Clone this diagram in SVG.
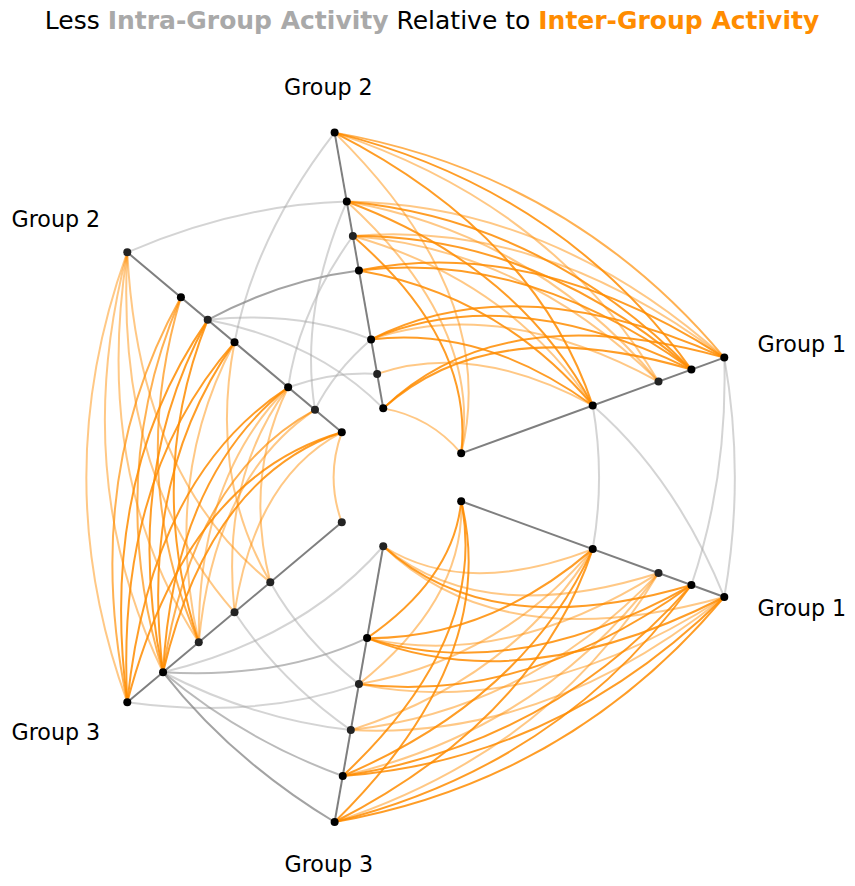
<svg xmlns="http://www.w3.org/2000/svg" width="855" height="886" viewBox="0 0 855 886">
<style>
.e{fill:none;stroke-width:2}
.oD{stroke:#ff8c00;stroke-opacity:0.85}
.oM{stroke:#ff8c00;stroke-opacity:0.68}
.oL{stroke:#ff8c00;stroke-opacity:0.48}
.gL{stroke:#a0a0a0;stroke-opacity:0.45}
.gM{stroke:#8c8c8c;stroke-opacity:0.6}
.gD{stroke:#808080;stroke-opacity:0.72}
.ax{stroke:#7f7f7f;stroke-width:2;fill:none}
.n{fill:#000}
.n2{fill:#232323}
.t{font-family:"DejaVu Sans","Liberation Sans",sans-serif}
.lab{font-family:"DejaVu Sans","Liberation Sans",sans-serif;font-size:22.2px;fill:#000}
</style>
<rect width="855" height="886" fill="#fff"/>
<text class="t" x="432" y="29" text-anchor="middle" font-size="25"><tspan fill="#000">Less </tspan><tspan fill="#a9a9a9" font-weight="bold">Intra-Group Activity</tspan><tspan fill="#000"> Relative to </tspan><tspan fill="#ff8c00" font-weight="bold">Inter-Group Activity</tspan></text>
<g id="connectors">
<path class="e gL" d="M592.73,405.48 Q605.4,477.3 592.73,549.12"/>
<path class="e gL" d="M724.29,357.59 Q745.4,477.3 724.29,597.01"/>
<path class="e gL" d="M724.29,357.59 Q727.9,477.3 691.4,585.04"/>
<path class="e gL" d="M592.73,405.48 Q675.4,477.3 724.29,597.01"/>
<path class="e gL" d="M127.29,252.32 Q237.9,204.5 346.78,201.55"/>
<path class="e gL" d="M334.62,132.62 Q255.4,234.81 234.53,342.31"/>
<path class="e gD" d="M207.72,319.82 Q281.65,280.28 358.93,270.49"/>
<path class="e gL" d="M207.72,319.82 Q299.15,310.59 371.09,339.43"/>
<path class="e gL" d="M207.72,319.82 Q316.65,340.9 383.24,408.36"/>
<path class="e gL" d="M346.78,201.55 Q299.15,310.59 314.97,409.81"/>
<path class="e gL" d="M352.86,236.02 Q299.15,310.59 288.15,387.31"/>
<path class="e gL" d="M288.15,387.31 Q334.15,371.21 377.17,373.89"/>
<path class="e gL" d="M314.97,409.81 Q334.15,371.21 371.09,339.43"/>
<path class="e gL" d="M127.29,702.28 Q255.4,719.79 358.93,684.11"/>
<path class="e gL" d="M163.06,672.26 Q302.08,638.94 383.24,546.24"/>
<path class="e gM" d="M163.06,672.26 Q278.75,679.34 367.04,638.12"/>
<path class="e gL" d="M163.06,672.26 Q255.4,719.79 350.82,730.1"/>
<path class="e gM" d="M163.06,672.26 Q243.75,739.97 342.73,775.99"/>
<path class="e gD" d="M163.06,672.26 Q232.08,760.19 334.62,822"/>
<path class="e gL" d="M234.53,612.29 Q278.73,679.39 350.82,730.1"/>
<path class="e gL" d="M270.3,582.27 Q302.08,638.94 358.93,684.11"/>
<path class="e oM" d="M334.62,132.62 Q570.4,174.19 724.29,357.59"/>
<path class="e oD" d="M334.62,132.62 Q561.65,189.35 691.4,369.56"/>
<path class="e oL" d="M334.62,132.62 Q552.9,204.5 658.51,381.53"/>
<path class="e oD" d="M334.62,132.62 Q535.4,234.81 592.73,405.48"/>
<path class="e oL" d="M334.62,132.62 Q500.4,295.43 461.18,453.36"/>
<path class="e oL" d="M346.78,201.55 Q552.9,204.5 724.29,357.59"/>
<path class="e oD" d="M346.78,201.55 Q544.15,219.66 691.4,369.56"/>
<path class="e oL" d="M346.78,201.55 Q535.4,234.81 658.51,381.53"/>
<path class="e oD" d="M346.78,201.55 Q517.9,265.12 592.73,405.48"/>
<path class="e oL" d="M346.78,201.55 Q482.9,325.74 461.18,453.36"/>
<path class="e oL" d="M352.86,236.02 Q544.15,219.66 724.29,357.59"/>
<path class="e oD" d="M352.86,236.02 Q535.4,234.81 691.4,369.56"/>
<path class="e oL" d="M352.86,236.02 Q526.65,249.97 658.51,381.53"/>
<path class="e oL" d="M352.86,236.02 Q509.15,280.28 592.73,405.48"/>
<path class="e oD" d="M352.86,236.02 Q474.15,340.9 461.18,453.36"/>
<path class="e oD" d="M358.93,270.49 Q535.4,234.81 724.29,357.59"/>
<path class="e oD" d="M358.93,270.49 Q526.65,249.97 691.4,369.56"/>
<path class="e oD" d="M358.93,270.49 Q500.4,295.43 592.73,405.48"/>
<path class="e oD" d="M371.09,339.43 Q517.9,265.12 724.29,357.59"/>
<path class="e oD" d="M371.09,339.43 Q509.15,280.28 691.4,369.56"/>
<path class="e oL" d="M371.09,339.43 Q500.4,295.43 658.51,381.53"/>
<path class="e oD" d="M371.09,339.43 Q482.9,325.74 592.73,405.48"/>
<path class="e oL" d="M377.17,373.89 Q474.15,340.9 592.73,405.48"/>
<path class="e oD" d="M383.24,408.36 Q500.4,295.43 724.29,357.59"/>
<path class="e oD" d="M383.24,408.36 Q491.65,310.59 691.4,369.56"/>
<path class="e oL" d="M383.24,408.36 Q430.4,416.68 461.18,453.36"/>
<path class="e oL" d="M127.29,252.32 Q45.4,477.3 127.29,702.28"/>
<path class="e oL" d="M127.29,252.32 Q68.75,477.3 163.06,672.26"/>
<path class="e oL" d="M127.29,252.32 Q92.05,477.3 198.76,642.3"/>
<path class="e oL" d="M127.29,252.32 Q115.4,477.3 234.53,612.29"/>
<path class="e oL" d="M127.29,252.32 Q138.75,477.3 270.3,582.27"/>
<path class="e oM" d="M180.91,297.32 Q80.4,477.3 127.29,702.28"/>
<path class="e oM" d="M180.91,297.32 Q103.75,477.3 163.06,672.26"/>
<path class="e oM" d="M180.91,297.32 Q127.05,477.3 198.76,642.3"/>
<path class="e oD" d="M207.72,319.82 Q97.9,477.3 127.29,702.28"/>
<path class="e oD" d="M207.72,319.82 Q121.25,477.3 163.06,672.26"/>
<path class="e oD" d="M207.72,319.82 Q144.55,477.3 198.76,642.3"/>
<path class="e oD" d="M234.53,342.31 Q115.4,477.3 127.29,702.28"/>
<path class="e oD" d="M234.53,342.31 Q138.75,477.3 163.06,672.26"/>
<path class="e oL" d="M234.53,342.31 Q162.05,477.3 198.76,642.3"/>
<path class="e oL" d="M234.53,342.31 Q208.75,477.3 270.3,582.27"/>
<path class="e oD" d="M288.15,387.31 Q150.4,477.3 127.29,702.28"/>
<path class="e oD" d="M288.15,387.31 Q173.75,477.3 163.06,672.26"/>
<path class="e oL" d="M288.15,387.31 Q197.05,477.3 198.76,642.3"/>
<path class="e oL" d="M288.15,387.31 Q220.4,477.3 234.53,612.29"/>
<path class="e oL" d="M288.15,387.31 Q243.75,477.3 270.3,582.27"/>
<path class="e oM" d="M314.97,409.81 Q191.25,477.3 163.06,672.26"/>
<path class="e oL" d="M314.97,409.81 Q214.55,477.3 198.76,642.3"/>
<path class="e oD" d="M341.78,432.3 Q185.4,477.3 127.29,702.28"/>
<path class="e oD" d="M341.78,432.3 Q208.75,477.3 163.06,672.26"/>
<path class="e oL" d="M341.78,432.3 Q255.4,477.3 234.53,612.29"/>
<path class="e oL" d="M341.78,432.3 Q325.4,477.3 341.78,522.3"/>
<path class="e oL" d="M383.24,546.24 Q500.4,659.17 724.29,597.01"/>
<path class="e oD" d="M383.24,546.24 Q491.65,644.01 691.4,585.04"/>
<path class="e oL" d="M383.24,546.24 Q482.9,628.86 658.51,573.07"/>
<path class="e oL" d="M383.24,546.24 Q465.4,598.54 592.73,549.12"/>
<path class="e oD" d="M367.04,638.12 Q453.73,578.32 461.18,501.24"/>
<path class="e oD" d="M367.04,638.12 Q488.73,638.94 592.73,549.12"/>
<path class="e oL" d="M367.04,638.12 Q506.23,669.25 658.51,573.07"/>
<path class="e oD" d="M367.04,638.12 Q514.98,684.41 691.4,585.04"/>
<path class="e oD" d="M367.04,638.12 Q523.73,699.57 724.29,597.01"/>
<path class="e oL" d="M358.93,684.11 Q465.4,598.54 461.18,501.24"/>
<path class="e oL" d="M358.93,684.11 Q500.4,659.17 592.73,549.12"/>
<path class="e oD" d="M358.93,684.11 Q526.65,704.63 691.4,585.04"/>
<path class="e oL" d="M358.93,684.11 Q535.4,719.79 724.29,597.01"/>
<path class="e oL" d="M350.82,730.1 Q512.08,679.39 592.73,549.12"/>
<path class="e oL" d="M350.82,730.1 Q529.58,709.7 658.51,573.07"/>
<path class="e oL" d="M350.82,730.1 Q547.08,740.01 724.29,597.01"/>
<path class="e oD" d="M342.73,775.99 Q488.73,638.94 461.18,501.24"/>
<path class="e oD" d="M342.73,775.99 Q523.73,699.57 592.73,549.12"/>
<path class="e oL" d="M342.73,775.99 Q541.23,729.88 658.51,573.07"/>
<path class="e oD" d="M342.73,775.99 Q549.98,745.03 691.4,585.04"/>
<path class="e oD" d="M342.73,775.99 Q558.73,760.19 724.29,597.01"/>
<path class="e oD" d="M334.62,822 Q500.4,659.17 461.18,501.24"/>
<path class="e oD" d="M334.62,822 Q535.4,719.79 592.73,549.12"/>
<path class="e oL" d="M334.62,822 Q552.9,750.1 658.51,573.07"/>
<path class="e oD" d="M334.62,822 Q561.65,765.25 691.4,585.04"/>
<path class="e oD" d="M334.62,822 Q570.4,780.41 724.29,597.01"/>
</g>
<g id="axes">
<line class="ax" x1="461.18" y1="453.36" x2="724.29" y2="357.59"/>
<line class="ax" x1="461.18" y1="501.24" x2="724.29" y2="597.01"/>
<line class="ax" x1="383.24" y1="408.36" x2="334.62" y2="132.62"/>
<line class="ax" x1="341.78" y1="432.3" x2="127.29" y2="252.32"/>
<line class="ax" x1="341.78" y1="522.3" x2="127.29" y2="702.28"/>
<line class="ax" x1="383.24" y1="546.24" x2="334.62" y2="822"/>
</g>
<g id="group1">
<circle class="n" cx="461.18" cy="453.36" r="4"/><circle class="n" cx="592.73" cy="405.48" r="4"/><circle class="n2" cx="658.51" cy="381.53" r="4"/><circle class="n" cx="691.4" cy="369.56" r="4"/><circle class="n" cx="724.29" cy="357.59" r="4"/>
<circle class="n" cx="461.18" cy="501.24" r="4"/><circle class="n" cx="592.73" cy="549.12" r="4"/><circle class="n2" cx="658.51" cy="573.07" r="4"/><circle class="n" cx="691.4" cy="585.04" r="4"/><circle class="n" cx="724.29" cy="597.01" r="4"/>
<text class="lab" x="757.5" y="351.5">Group 1</text>
<text class="lab" x="757.5" y="615.5">Group 1</text>
</g>
<g id="group2">
<circle class="n" cx="334.62" cy="132.62" r="4"/><circle class="n" cx="346.78" cy="201.55" r="4"/><circle class="n2" cx="352.86" cy="236.02" r="4"/><circle class="n" cx="358.93" cy="270.49" r="4"/><circle class="n" cx="371.09" cy="339.43" r="4"/><circle class="n2" cx="377.17" cy="373.89" r="4"/><circle class="n" cx="383.24" cy="408.36" r="4"/>
<circle class="n2" cx="127.29" cy="252.32" r="4"/><circle class="n" cx="180.91" cy="297.32" r="4"/><circle class="n2" cx="207.72" cy="319.82" r="4"/><circle class="n" cx="234.53" cy="342.31" r="4"/><circle class="n" cx="288.15" cy="387.31" r="4"/><circle class="n2" cx="314.97" cy="409.81" r="4"/><circle class="n" cx="341.78" cy="432.3" r="4"/>
<text class="lab" x="284" y="95">Group 2</text>
<text class="lab" x="11.5" y="226.5">Group 2</text>
</g>
<g id="group3">
<circle class="n2" cx="341.78" cy="522.3" r="4"/><circle class="n2" cx="270.3" cy="582.27" r="4"/><circle class="n2" cx="234.53" cy="612.29" r="4"/><circle class="n2" cx="198.76" cy="642.3" r="4"/><circle class="n" cx="163.06" cy="672.26" r="4"/><circle class="n" cx="127.29" cy="702.28" r="4"/>
<circle class="n2" cx="383.24" cy="546.24" r="4"/><circle class="n" cx="367.04" cy="638.12" r="4"/><circle class="n2" cx="358.93" cy="684.11" r="4"/><circle class="n2" cx="350.82" cy="730.1" r="4"/><circle class="n" cx="342.73" cy="775.99" r="4"/><circle class="n" cx="334.62" cy="822" r="4"/>
<text class="lab" x="11.5" y="740">Group 3</text>
<text class="lab" x="284.5" y="872">Group 3</text>
</g>
</svg>
